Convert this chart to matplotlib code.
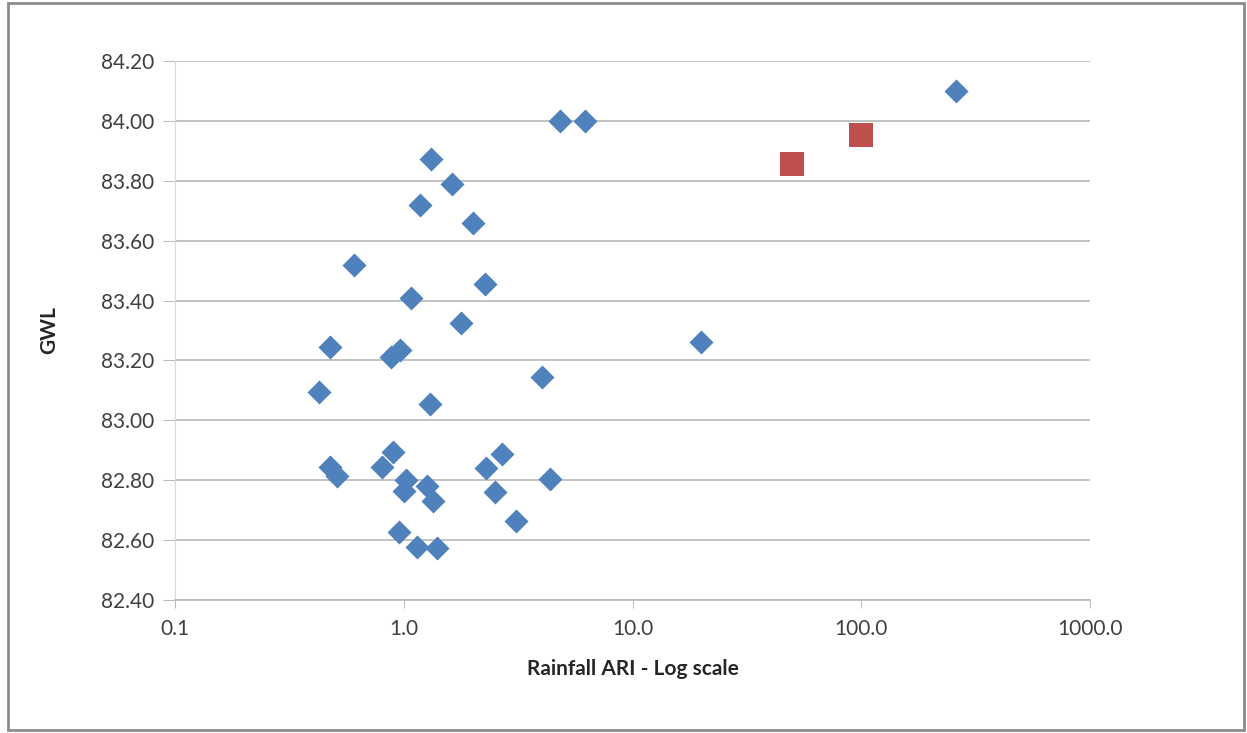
import matplotlib.pyplot as plt
from matplotlib.patches import Rectangle

plt.rcParams['font.family'] = ['Lato', 'DejaVu Sans']

# observed events (blue diamonds)
ari_obs = [259, 4.82, 6.2, 1.32, 1.63, 1.18, 2.01, 0.606, 1.076, 2.27, 1.78,
           0.476, 0.88, 0.963, 19.9, 4.02, 0.426, 1.30, 0.897, 0.477, 0.512,
           0.80, 1.02, 1.0, 1.26, 1.34, 0.953, 1.14, 1.40, 2.29, 2.69, 2.51,
           3.10, 4.36]
gwl_obs = [84.10, 84.00, 84.00, 83.873, 83.789, 83.72, 83.66, 83.52, 83.41,
           83.455, 83.325, 83.245, 83.21, 83.235, 83.26, 83.145, 83.095,
           83.055, 82.894, 82.845, 82.815, 82.845, 82.80, 82.764, 82.78,
           82.73, 82.627, 82.577, 82.574, 82.84, 82.888, 82.76, 82.664, 82.804]

# design events (red squares)
ari_design = [50, 100]
gwl_design = [83.856, 83.953]

x_ticks = [0.1, 1, 10, 100, 1000]
x_labels = ['0.1', '1.0', '10.0', '100.0', '1000.0']
y_ticks = [82.4, 82.6, 82.8, 83.0, 83.2, 83.4, 83.6, 83.8, 84.0, 84.2]

fig = plt.figure(figsize=(12.47, 7.33), dpi=100)
ax = fig.add_axes([0.1403, 0.1814, 0.8738, 0.7354 - 0.0000])
ax.set_position([175 / 1247, 1 - 600 / 733, (1090 - 175) / 1247, (600 - 61) / 733])

ax.scatter(ari_obs, gwl_obs, marker='D', s=150, color='#4F81BD', zorder=3,
           linewidths=0)
ax.scatter(ari_design, gwl_design, marker='s', s=300, color='#C0504D',
           zorder=3, linewidths=0)

ax.set_xscale('log')
ax.set_xlim(0.1, 1000)
ax.set_ylim(82.4, 84.2)
ax.set_xticks(x_ticks)
ax.set_xticklabels(x_labels)
ax.minorticks_off()
ax.set_yticks(y_ticks)
ax.set_yticklabels([f'{v:.2f}' for v in y_ticks])

ax.grid(axis='y', color='#BDBDBD', linewidth=1.3)
ax.set_axisbelow(True)
for side in ['top', 'right']:
    ax.spines[side].set_visible(False)
ax.spines['left'].set_color('#D9D9D9')
ax.spines['bottom'].set_color('#BDBDBD')
ax.spines['bottom'].set_linewidth(1.3)
ax.tick_params(axis='y', length=9, color='#BDBDBD', labelsize=15,
               labelcolor='#404040', pad=6)
ax.tick_params(axis='x', length=6, color='#BDBDBD', labelsize=15,
               labelcolor='#404040', pad=8)

ax.set_xlabel('Rainfall ARI - Log scale', fontsize=15, fontweight='bold',
              color='#262626', labelpad=14)
ax.set_ylabel('GWL', fontsize=15, fontweight='bold', color='#262626',
              labelpad=30)

# outer chart border
fig.patches.append(Rectangle((8 / 1247, 3 / 733), 1236 / 1247, 727 / 733,
                             transform=fig.transFigure, fill=False,
                             edgecolor='#8C8C8C', linewidth=2))

fig.savefig('out.png', dpi=100)
